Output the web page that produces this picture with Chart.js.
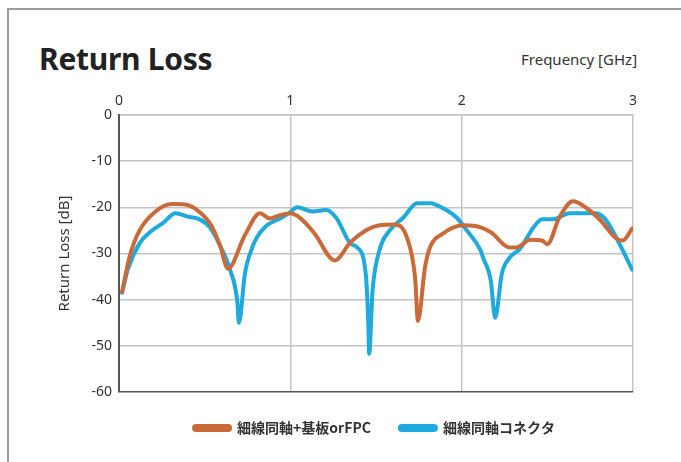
<!DOCTYPE html>
<html>
<head>
<meta charset="utf-8">
<script src="https://cdn.jsdelivr.net/npm/chart.js@4"></script>
<style>
  html, body { margin: 0; padding: 0; background: #fff; overflow: hidden; }
  #wrap { position: relative; width: 681px; height: 462px; }
  #frame { position: absolute; left: 7px; top: 8px; width: 720px; height: 520px; border: 2px solid #9c9c9c; box-sizing: border-box; }
  #title { position: absolute; left: 39px; top: 38px; font: bold 30px "Noto Sans", sans-serif; color: #222; letter-spacing: -0.3px; }
  #unit { position: absolute; left: 521px; top: 49px; font: 15px "Noto Sans", sans-serif; color: #333; }
  canvas { position: absolute; left: 0; top: 0; }
</style>
</head>
<body>
<div id="wrap">
  <div id="frame"></div>
  <div id="title">Return Loss</div>
  <div id="unit">Frequency [GHz]</div>
  <canvas id="chart" width="681" height="462"></canvas>
</div>
<script>
// series labels
const SERIES_NAMES = ["細線同軸+基板orFPC", "細線同軸コネクタ"];

// 細線同軸+基板orFPC (GHz / dB)
const orangeFreq = [0.018, 0.064, 0.12, 0.21, 0.31, 0.385, 0.47, 0.54, 0.59, 0.636, 0.735, 0.823, 0.88, 0.94, 1.0, 1.06, 1.14, 1.26, 1.35, 1.44, 1.52, 1.61, 1.68, 1.728, 1.745, 1.786, 1.815, 1.89, 2.01, 2.07, 2.17, 2.28, 2.32, 2.4, 2.47, 2.5, 2.57, 2.65, 2.73, 2.81, 2.9, 2.94, 2.995];
const orangeDb   = [-38.3, -30.4, -25, -21, -19.3, -19.4, -21, -24, -28.3, -33.3, -26, -21.3, -22.4, -21.7, -21.3, -22.4, -25.6, -31.5, -27.6, -25, -23.9, -23.7, -26.5, -35.2, -44.6, -33, -28.7, -25.7, -23.9, -24, -25.4, -28.7, -28.7, -27, -27.2, -28, -22.2, -18.7, -20.2, -22.8, -26.7, -27.2, -24.6];

// 細線同軸コネクタ (GHz / dB)
const blueFreq = [0.018, 0.053, 0.12, 0.18, 0.26, 0.33, 0.40, 0.47, 0.53, 0.59, 0.65, 0.69, 0.70, 0.735, 0.765, 0.805, 0.86, 0.94, 0.99, 1.04, 1.13, 1.21, 1.27, 1.35, 1.39, 1.44, 1.455, 1.46, 1.48, 1.52, 1.58, 1.66, 1.74, 1.815, 1.91, 1.97, 2.03, 2.11, 2.125, 2.17, 2.195, 2.235, 2.28, 2.34, 2.42, 2.47, 2.535, 2.63, 2.73, 2.78, 2.83, 2.88, 2.94, 2.995];
const blueDb   = [-38.5, -33.3, -27.8, -25.4, -23.3, -21.3, -22, -22.6, -24.3, -28.3, -33.7, -40.2, -45, -34.3, -30, -26.5, -24, -22.4, -21.3, -20, -20.9, -20.6, -22.4, -27.8, -28.7, -34.3, -45, -51.7, -38, -29.3, -25, -22.2, -19.1, -19.1, -20.6, -22.2, -25, -29.3, -30.9, -35.9, -43.9, -34.3, -30.9, -29, -24.3, -22.6, -22.6, -21.3, -21.3, -21.3, -22.2, -25, -29.3, -33.5];

// axes
const X_TICKS = [0, 1, 2, 3];
const Y_TICKS = [0, -10, -20, -30, -40, -50, -60];

const ORANGE = "#c96a38";
const BLUE = "#1eaadd";
const GRID = "#c4c4c4";
const AXIS = "#555555";

const toPoints = (xs, ys) => xs.map((x, i) => ({ x, y: ys[i] }));

// push the legend so it sits centred under the plot like the original
const legendShift = {
  id: "legendShift",
  afterLayout(chart) {
    const lg = chart.legend;
    if (!lg) return;
    const dx = 58;
    lg.left += dx;
    lg.right += dx;
  },
};

new Chart(document.getElementById("chart"), {
  type: "line",
  data: {
    datasets: [
      {
        label: SERIES_NAMES[0],
        data: toPoints(orangeFreq, orangeDb),
        borderColor: ORANGE,
        backgroundColor: ORANGE,
        borderWidth: 4,
        pointRadius: 0,
        cubicInterpolationMode: "monotone",
        borderCapStyle: "round",
        borderJoinStyle: "round",
      },
      {
        label: SERIES_NAMES[1],
        data: toPoints(blueFreq, blueDb),
        borderColor: BLUE,
        backgroundColor: BLUE,
        borderWidth: 4,
        pointRadius: 0,
        cubicInterpolationMode: "monotone",
        borderCapStyle: "round",
        borderJoinStyle: "round",
      },
    ],
  },
  options: {
    responsive: false,
    animation: false,
    events: [],
    layout: { padding: { left: 0, right: 48, top: 0, bottom: 17 } },
    plugins: {
      tooltip: { enabled: false },
      legend: {
        position: "bottom",
        labels: {
          boxWidth: 36,
          boxHeight: 4,
          padding: 29,
          color: "#333",
          useBorderRadius: true,
          borderRadius: 2,
          font: { family: "'Noto Sans CJK JP', 'Noto Sans', sans-serif", size: 14, weight: "bold" },
        },
      },
    },
    scales: {
      x: {
        type: "linear",
        position: "top",
        min: 0,
        max: 3,
        afterBuildTicks: (s) => { s.ticks = X_TICKS.map((v) => ({ value: v })); },
        afterFit: (s) => { s.height = 115; },
        ticks: { padding: 6, color: "#333", font: { family: "'Noto Sans', sans-serif", size: 14 } },
        grid: {
          drawTicks: false,
          lineWidth: 1.5,
          color: (c) => (c.tick && c.tick.value === 0 ? AXIS : GRID),
        },
        border: { color: GRID, width: 1.5 },
      },
      y: {
        min: -60,
        max: 0,
        afterBuildTicks: (s) => { s.ticks = Y_TICKS.map((v) => ({ value: v })); },
        afterFit: (s) => { s.width = 119; },
        ticks: { padding: 7, color: "#333", font: { family: "'Noto Sans', sans-serif", size: 14 } },
        title: {
          display: true,
          text: "Return Loss [dB]",
          color: "#333",
          padding: { top: 56, bottom: 0 },
          font: { family: "'Noto Sans', sans-serif", size: 15 },
        },
        grid: {
          drawTicks: false,
          lineWidth: 1.5,
          color: (c) => (c.tick && c.tick.value === -60 ? AXIS : GRID),
        },
        border: { color: AXIS, width: 2 },
      },
    },
  },
  plugins: [legendShift],
});
</script>
</body>
</html>
